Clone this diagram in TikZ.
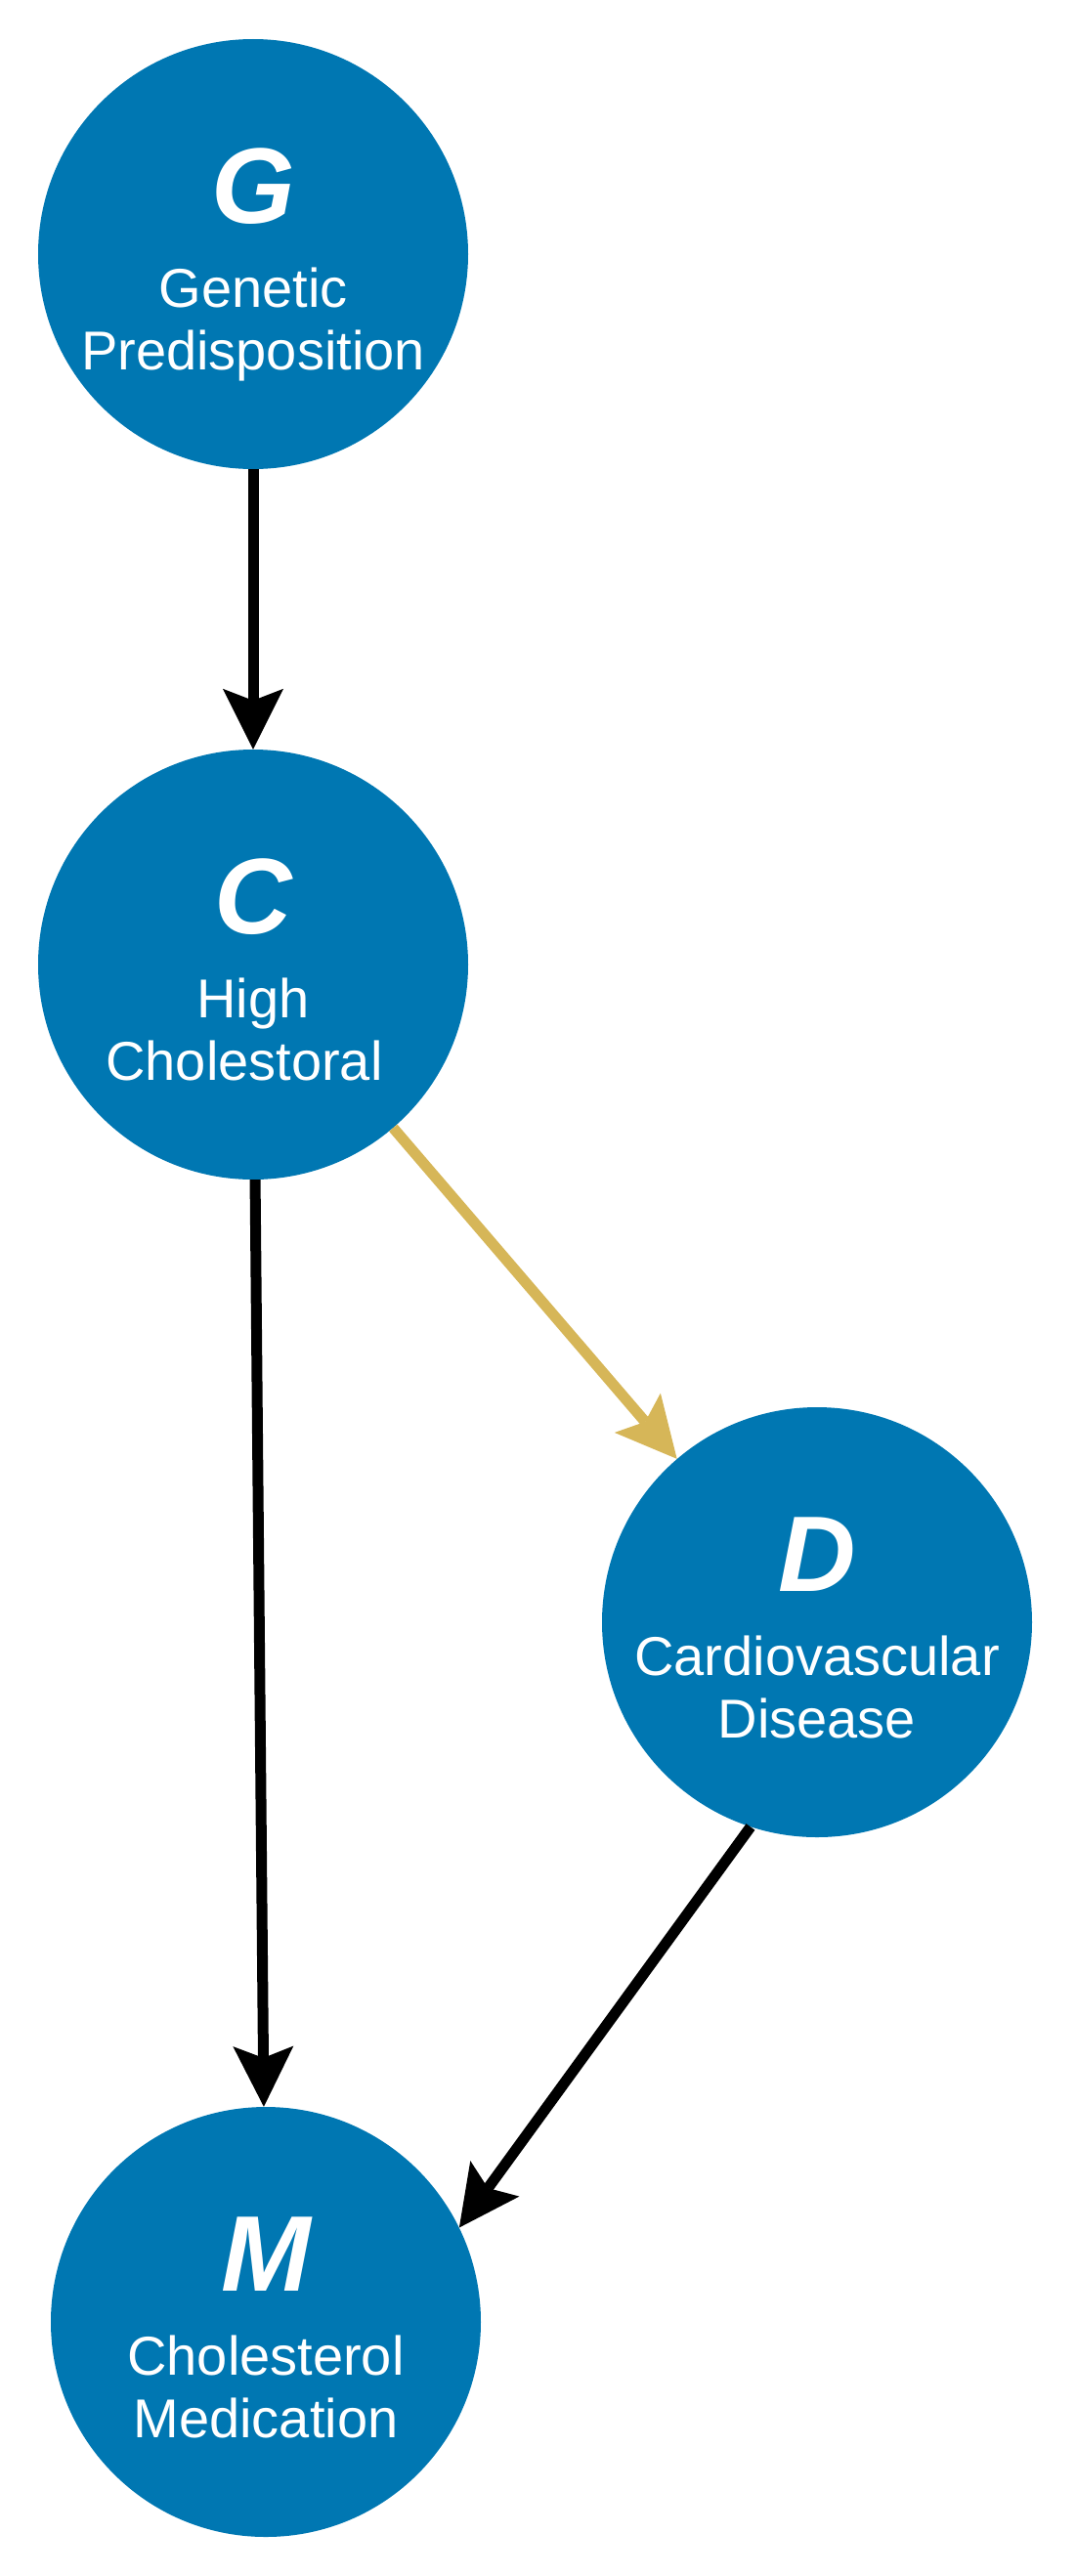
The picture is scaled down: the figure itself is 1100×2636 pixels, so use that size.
\documentclass[tikz,border=0pt]{standalone}
\usepackage{fontspec}
\setmainfont{Liberation Sans}
\usetikzlibrary{arrows.meta}
\definecolor{nodeblue}{RGB}{0,119,178}
\definecolor{edgegold}{RGB}{214,182,88}
\begin{document}
\begin{tikzpicture}[x=1pt,y=-1pt,
  var/.style={circle, fill=nodeblue, draw=none, minimum size=440pt, inner sep=0pt},
  sym/.style={text=white, font=\fontsize{110}{110}\selectfont\bfseries\itshape, anchor=base, inner sep=0pt},
  lbl/.style={text=white, font=\fontsize{56}{64}\selectfont, anchor=base, inner sep=0pt},
  edge/.style={line width=11pt, draw=black, -{Stealth[length=62pt, width=62pt, inset=12pt, line width=0pt]}},
  goldedge/.style={edge, draw=edgegold},
]
\useasboundingbox (0,0) rectangle (1100,2636);

\node[var] (G) at (259,260) {};
\node[var] (C) at (259,987) {};
\node[var] (D) at (836,1660) {};
\node[var] (M) at (272,2376) {};

\node[sym] (Gs) at ([yshift=32pt]G.center) {G};
\node[lbl] (Gl1) at ([yshift=-54pt]G.center) {Genetic};
\node[lbl] (Gl2) at ([yshift=-118pt]G.center) {Predisposition};

\node[sym] (Cs) at ([yshift=32pt]C.center) {C};
\node[lbl] (Cl1) at ([yshift=-54pt]C.center) {High};
\node[lbl] (Cl2) at ([yshift=-118pt,xshift=-9pt]C.center) {Cholestoral};

\node[sym] (Ds) at ([yshift=32pt]D.center) {D};
\node[lbl] (Dl1) at ([yshift=-54pt]D.center) {Cardiovascular};
\node[lbl] (Dl2) at ([yshift=-118pt]D.center) {Disease};

\node[sym] (Ms) at ([yshift=32pt]M.center) {M};
\node[lbl] (Ml1) at ([yshift=-54pt]M.center) {Cholesterol};
\node[lbl] (Ml2) at ([yshift=-118pt]M.center) {Medication};

\draw[edge] (G) -- (C);
\draw[edge] (C) -- (M);
\draw[goldedge] (C) -- (D);
\draw[edge] (D.252) -- (M.26);
\end{tikzpicture}
\end{document}
